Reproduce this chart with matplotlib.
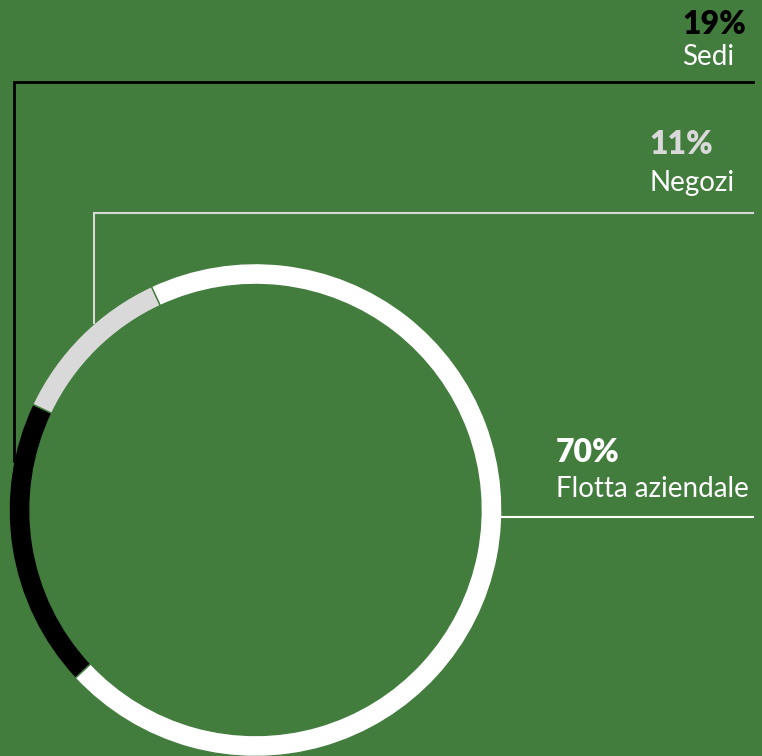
import matplotlib.pyplot as plt

# quote di utilizzo per categoria
labels = ['Flotta aziendale', 'Sedi', 'Negozi']
values = [70, 19, 11]
colors = ['#ffffff', '#000000', '#d9d9d9']
pct_colors = ['#ffffff', '#000000', '#d9d9d9']

bg = '#427d3d'
H = 756  # altezza in pixel, per lavorare con y dall'alto

fig = plt.figure(figsize=(7.62, 7.56), dpi=100)
fig.patch.set_facecolor(bg)
ax = fig.add_axes([0, 0, 1, 1])
ax.set_facecolor(bg)

cx, cy, r, w = 255.5, H - 510, 246.5, 21
ax.pie(values, colors=colors, startangle=115, counterclock=False,
       center=(cx, cy), radius=r,
       wedgeprops=dict(width=w, edgecolor=bg, linewidth=1))

ax.set_xlim(0, 762)
ax.set_ylim(0, H)
ax.set_aspect('auto')
ax.axis('off')

# linee di richiamo
ax.plot([14, 14, 753], [H - 461, H - 82, H - 82], color='black', lw=2,
        solid_joinstyle='miter')
ax.plot([94, 94, 753], [H - 323, H - 213, H - 213], color='#d9d9d9', lw=1.5,
        solid_joinstyle='miter')
ax.plot([502, 753], [H - 517, H - 517], color='white', lw=1.5)

font = 'Lato'
texts = [(556, 452, 489), (682, 24, 57), (649, 145, 183)]
for (x, yp, yl), lab, v, c in zip(texts, labels, values, pct_colors):
    ax.text(x, H - yp, f'{v}%', color=c, fontsize=23, fontweight='heavy',
            family=font, ha='left', va='center')
    ax.text(x, H - yl, lab, color='white', fontsize=20, fontweight='normal',
            family=font, ha='left', va='center')

fig.savefig('out.png', dpi=100, facecolor=bg)
